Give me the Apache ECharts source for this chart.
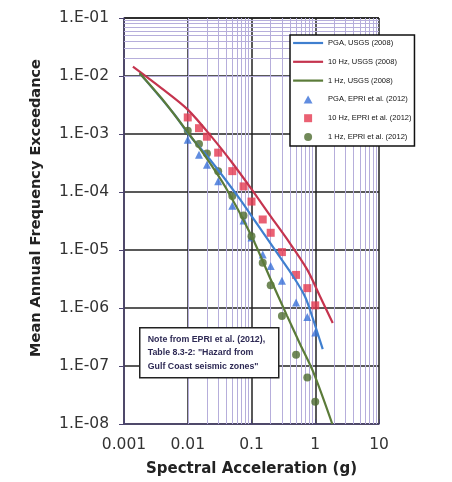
<!DOCTYPE html>
<html><head><meta charset="utf-8">
<script src="https://cdn.jsdelivr.net/npm/echarts@6/dist/echarts.min.js"></script>
<style>html,body{margin:0;padding:0;background:#fff}#c{width:452px;height:482px}</style>
</head><body><div id="c"></div>
<script>
// ---- data ----
const xTickLabels = ['0.001', '0.01', '0.1', '1', '10'];
const yTickLabels = ['1.E-08', '1.E-07', '1.E-06', '1.E-05', '1.E-04', '1.E-03', '1.E-02', '1.E-01'];

// EPRI et al. (2012) points
const epriSA = [0.01, 0.015, 0.02, 0.03, 0.05, 0.075, 0.1, 0.15, 0.2, 0.3, 0.5, 0.75, 1.0];
const epriPGA = [7.97e-4, 4.4e-4, 2.96e-4, 1.53e-4, 5.77e-5, 3.22e-5, 1.64e-5, 8.4e-6, 5.3e-6, 2.94e-6, 1.24e-6, 7.0e-7, 3.78e-7];
const epri10Hz = [1.93e-3, 1.26e-3, 8.98e-4, 4.77e-4, 2.29e-4, 1.25e-4, 6.84e-5, 3.36e-5, 1.98e-5, 9.2e-6, 3.72e-6, 2.2e-6, 1.11e-6];
const epri1Hz = [1.14e-3, 6.73e-4, 4.62e-4, 2.27e-4, 8.5e-5, 3.93e-5, 1.73e-5, 6.04e-6, 2.46e-6, 7.3e-7, 1.57e-7, 6.35e-8, 2.42e-8];

// USGS (2008) curves
const usgsPGA_x = [0.00176, 0.00623, 0.0101, 0.0234, 0.0637, 0.107, 0.263, 0.447, 0.69, 0.9, 1.31];
const usgsPGA_y = [1.12e-2, 2.15e-3, 1.02e-3, 3.39e-4, 7.9e-5, 3.47e-5, 8.3e-6, 3.55e-6, 1.58e-6, 7.0e-7, 1.95e-7];
const usgs10_x = [0.00138, 0.00385, 0.01, 0.0263, 0.0501, 0.1, 0.2, 0.355, 0.741, 1.19, 1.88];
const usgs10_y = [1.45e-2, 6.18e-3, 2.63e-3, 7.76e-4, 3.16e-4, 1.12e-4, 3.8e-5, 1.58e-5, 4.68e-6, 1.58e-6, 5.5e-7];
const usgs1_x = [0.00176, 0.00385, 0.00895, 0.01845, 0.0398, 0.1, 0.21, 0.36, 0.577, 0.93, 1.85];
const usgs1_y = [1.12e-2, 4.17e-3, 1.26e-3, 4.27e-4, 1.17e-4, 1.74e-5, 2.75e-6, 7.4e-7, 2.4e-7, 7.9e-8, 1.0e-8];

const minorMult = [2, 3, 4, 5, 6, 7, 8, 9];

// ---- build ----
const pairs = (xs, ys) => xs.map((x, i) => [x, ys[i]]);
const minorLines = [];
for (let e = -3; e < 1; e++) minorMult.forEach(m => minorLines.push({ xAxis: m * Math.pow(10, e) }));
for (let e = -8; e < -1; e++) minorMult.forEach(m => minorLines.push({ yAxis: m * Math.pow(10, e) }));

const C = { pga: '#3f7fcf', hz10: '#c5344e', hz1: '#5b7b39', mPga: '#3a70d8', m10: '#e53950', m1: '#4d6b2f' };
const lineLegend = (name, col) => ({ name, icon: 'line', itemStyle: { color: col, borderColor: col, borderWidth: 2.2 } });
const TRI = 'path://M5,0L10,9L0,9Z';
const SQR = 'path://M0,0L10,0L10,10L0,10Z';

const tickFont = 'DejaVu Sans';
const chart = echarts.init(document.getElementById('c'), null, { renderer: 'canvas' });
chart.setOption({
  animation: false,
  backgroundColor: '#fff',
  grid: { left: 124, right: 73, top: 18, bottom: 57 },
  xAxis: {
    type: 'log', logBase: 10, min: 0.001, max: 10,
    axisLine: { show: true, lineStyle: { color: '#4c4470', width: 1.5 } },
    axisTick: { show: true, inside: true, length: 5, lineStyle: { color: '#4c4470' } },
    axisLabel: {
      showMinLabel: true, showMaxLabel: true, margin: 13,
      fontFamily: tickFont, fontSize: 15.5, color: '#333',
      formatter: v => xTickLabels[Math.round(Math.log10(v)) + 3]
    },
    splitLine: { show: true, lineStyle: { color: '#222', width: 1.5 } },
    name: 'Spectral Acceleration (g)', nameLocation: 'middle', nameGap: 38,
    nameTextStyle: { fontFamily: tickFont, fontWeight: 'bold', fontSize: 15, color: '#222' }
  },
  yAxis: {
    type: 'log', logBase: 10, min: 1e-8, max: 0.1,
    axisLine: { show: true, lineStyle: { color: '#4c4470', width: 1.5 } },
    axisTick: { show: true, inside: false, length: 5, lineStyle: { color: '#4c4470' } },
    axisLabel: {
      showMinLabel: true, showMaxLabel: true, margin: 15,
      fontFamily: tickFont, fontSize: 15.5, color: '#333',
      formatter: v => yTickLabels[Math.round(Math.log10(v)) + 8]
    },
    splitLine: { show: true, lineStyle: { color: '#222', width: 1.5 } },
    name: 'Mean Annual Frequency Exceedance', nameLocation: 'middle', nameGap: 80,
    nameTextStyle: { fontFamily: tickFont, fontWeight: 'bold', fontSize: 14.5, color: '#222', padding: [0, 0, 0, 26] }
  },
  legend: {
    data: [lineLegend('PGA, USGS (2008)', C.pga), lineLegend('10 Hz, USGS (2008)', C.hz10), lineLegend('1 Hz, USGS (2008)', C.hz1),
           { name: 'PGA, EPRI et al. (2012)', icon: TRI },
           { name: '10 Hz, EPRI et al. (2012)', icon: SQR },
           { name: '1 Hz, EPRI et al. (2012)', icon: 'circle' }],
    symbolKeepAspect: true,
    orient: 'vertical', left: 290, top: 35,
    itemWidth: 30, itemHeight: 8, itemGap: 10.8,
    padding: [4, 3, 5, 2],
    backgroundColor: '#fff', borderColor: '#111', borderWidth: 1.5,
    textStyle: { fontFamily: 'Liberation Sans', fontSize: 7.5, color: '#111' }
  },
  graphic: {
    elements: [{
      type: 'group', left: 139, top: 327, z: 100,
      children: [
        { type: 'rect', z: 100, shape: { x: 0, y: 0, width: 139, height: 50 }, style: { fill: '#fff', stroke: '#222', lineWidth: 1.5 } },
        { type: 'text', z: 101, x: 8, y: 5, style: { text: 'Note from EPRI et al. (2012),\nTable 8.3-2: "Hazard from\nGulf Coast seismic zones"', font: 'bold 8.8px "Liberation Sans"', fill: '#2e2a55', lineHeight: 13.5 } }
      ]
    }]
  },
  series: [
    { name: 'grid-minor', type: 'line', data: [], silent: true, z: 1,
      markLine: { z: 1, silent: true, symbol: ['none', 'none'], label: { show: false },
        lineStyle: { type: 'solid', color: '#b6aedb', width: 1 }, emphasis: { disabled: true }, data: minorLines } },
    { name: 'PGA, USGS (2008)', type: 'line', data: pairs(usgsPGA_x, usgsPGA_y), symbol: 'none', smooth: 0.3,
      lineStyle: { color: C.pga, width: 2.2 }, itemStyle: { color: C.pga } },
    { name: '10 Hz, USGS (2008)', type: 'line', data: pairs(usgs10_x, usgs10_y), symbol: 'none', smooth: 0.3,
      lineStyle: { color: C.hz10, width: 2.2 }, itemStyle: { color: C.hz10 } },
    { name: '1 Hz, USGS (2008)', type: 'line', data: pairs(usgs1_x, usgs1_y), symbol: 'none', smooth: 0.3,
      lineStyle: { color: C.hz1, width: 2.2 }, itemStyle: { color: C.hz1 } },
    { name: 'PGA, EPRI et al. (2012)', type: 'scatter', data: pairs(epriSA, epriPGA), symbol: 'triangle', symbolSize: 8,
      itemStyle: { color: C.mPga } },
    { name: '10 Hz, EPRI et al. (2012)', type: 'scatter', data: pairs(epriSA, epri10Hz), symbol: 'rect', symbolSize: 8,
      itemStyle: { color: C.m10 } },
    { name: '1 Hz, EPRI et al. (2012)', type: 'scatter', data: pairs(epriSA, epri1Hz), symbol: 'circle', symbolSize: 8,
      itemStyle: { color: C.m1 } }
  ]
});
</script></body></html>
